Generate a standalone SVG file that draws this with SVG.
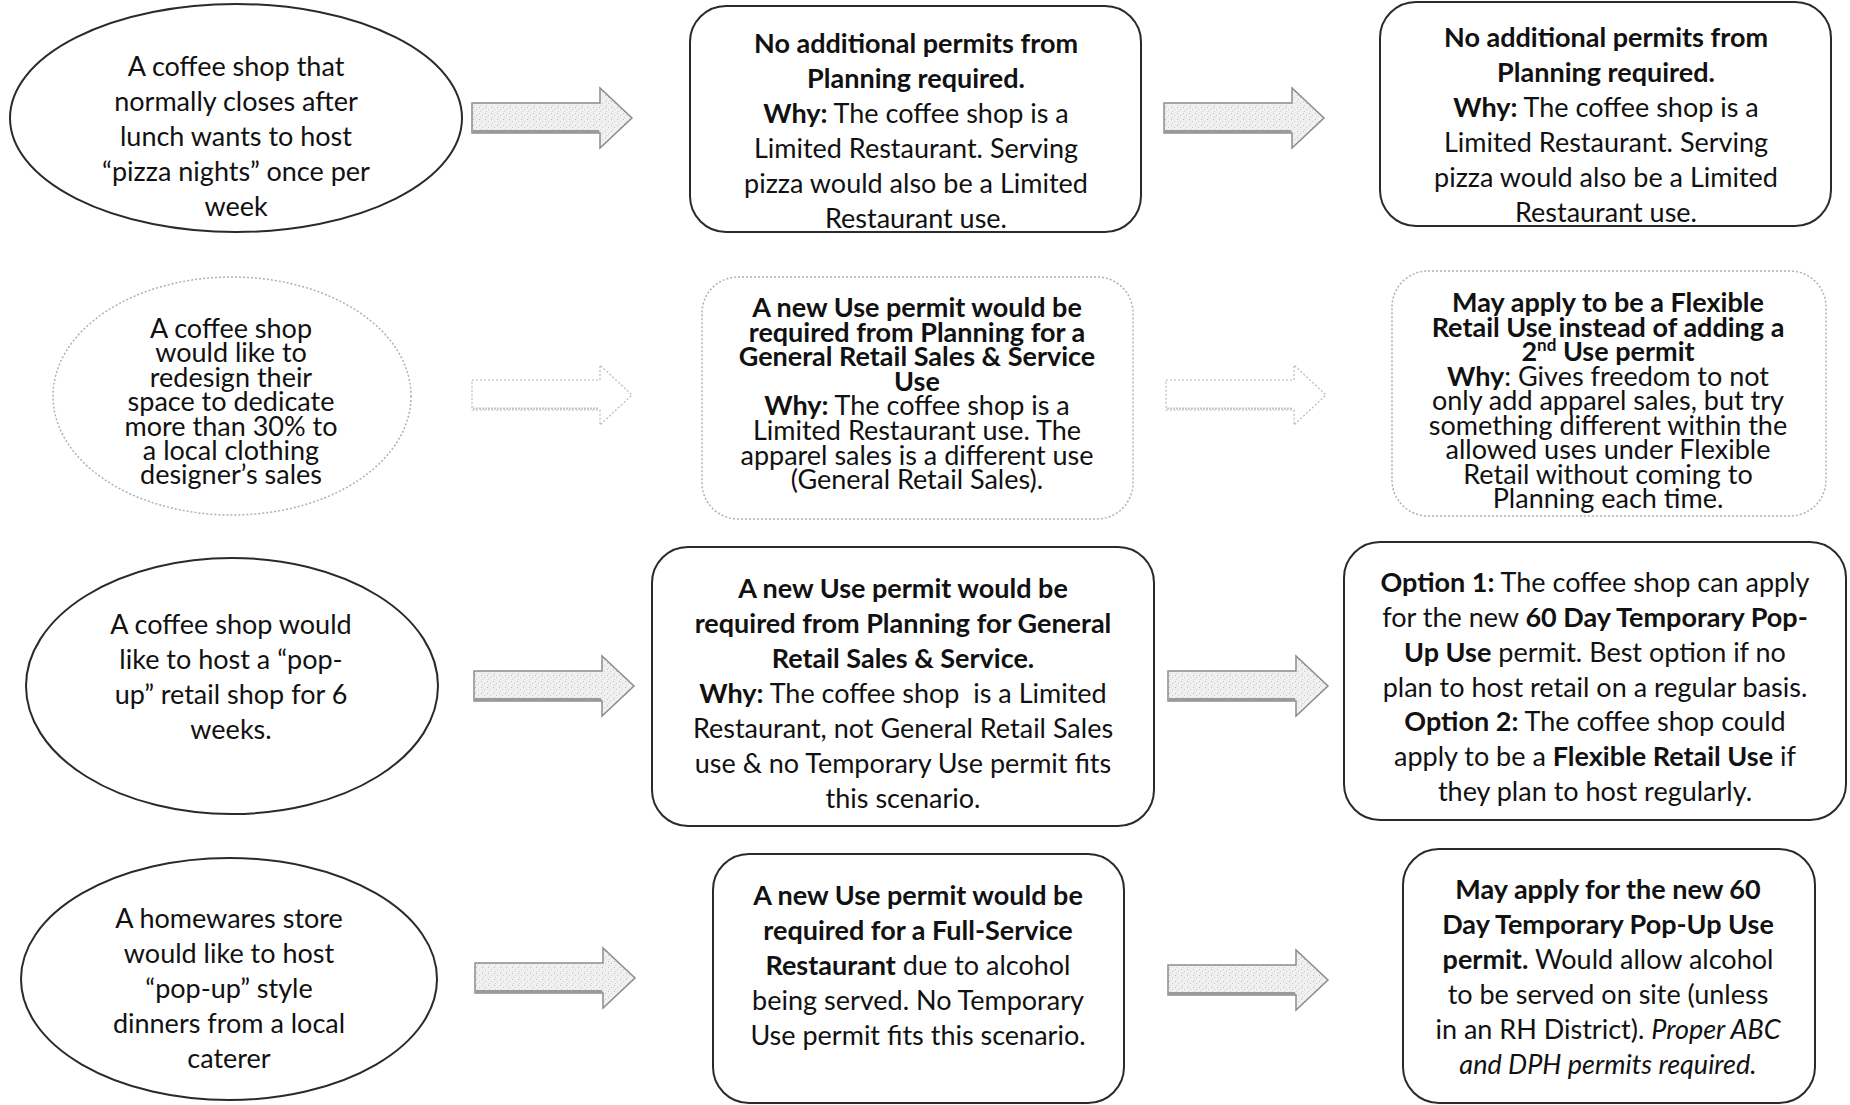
<svg xmlns="http://www.w3.org/2000/svg" width="1850" height="1105" viewBox="0 0 1850 1105">
<style>
.t{font-family:Lato,"Liberation Sans",sans-serif;font-size:27px;fill:#111;text-anchor:middle}
.b{font-weight:bold}
.i{font-style:italic}
.shape{fill:#fff;stroke:#2a2a2a;stroke-width:2}
.faint{fill:#fff;stroke:#b0b0b0;stroke-width:1.5;stroke-dasharray:2 2}
.arr{fill:url(#stip);stroke:#8c8c8c;stroke-width:1.5}
.arrf{fill:#fff;stroke:#b8b8b8;stroke-width:1.2;stroke-dasharray:2 2}
.edge{fill:none;stroke:#9a9a9a;stroke-width:3}
.edgef{fill:none;stroke:#c4c4c4;stroke-width:2;stroke-dasharray:2 1}
</style>
<defs>
<pattern id="stip" width="6" height="6" patternUnits="userSpaceOnUse">
<rect width="6" height="6" fill="#f0f0f0"/>
<rect x="1" y="1" width="1" height="1" fill="#bdbdbd"/>
<rect x="4" y="3" width="1" height="1" fill="#c8c8c8"/>
<rect x="2" y="5" width="1" height="1" fill="#d0d0d0"/>
</pattern>
<path id="arrow" d="M0,-15 H128 V-30 L160,0 L128,30 V15 H0 Z"/>
<path id="arrowEdge" d="M1,13.5 H127"/>
</defs>
<rect width="1850" height="1105" fill="#fff"/>

<g id="connectors">
<g transform="translate(472,118)"><use href="#arrow" class="arr"/><use href="#arrowEdge" class="edge"/></g>
<g transform="translate(1164,118)"><use href="#arrow" class="arr"/><use href="#arrowEdge" class="edge"/></g>
<g transform="translate(472,395)"><use href="#arrow" class="arrf"/><use href="#arrowEdge" class="edgef"/></g>
<g transform="translate(1166,395)"><use href="#arrow" class="arrf"/><use href="#arrowEdge" class="edgef"/></g>
<g transform="translate(474,686)"><use href="#arrow" class="arr"/><use href="#arrowEdge" class="edge"/></g>
<g transform="translate(1168,686)"><use href="#arrow" class="arr"/><use href="#arrowEdge" class="edge"/></g>
<g transform="translate(475,978)"><use href="#arrow" class="arr"/><use href="#arrowEdge" class="edge"/></g>
<g transform="translate(1168,980)"><use href="#arrow" class="arr"/><use href="#arrowEdge" class="edge"/></g>
</g>

<g id="scenario1">
<ellipse class="shape" cx="236" cy="118" rx="226" ry="114"/>
<text class="t"><tspan x="236" y="76">A coffee shop that</tspan><tspan x="236" y="111">normally closes after</tspan><tspan x="236" y="146">lunch wants to host</tspan><tspan x="236" y="181">“pizza nights” once per</tspan><tspan x="236" y="216">week</tspan></text>
</g>
<g id="result1">
<rect class="shape" x="690" y="6" width="451" height="226" rx="36"/>
<text class="t"><tspan x="916" y="53" class="b">No additional permits from</tspan><tspan x="916" y="88" class="b">Planning required.</tspan><tspan x="916" y="123"><tspan class="b">Why:</tspan> The coffee shop is a</tspan><tspan x="916" y="158">Limited Restaurant. Serving</tspan><tspan x="916" y="193">pizza would also be a Limited</tspan><tspan x="916" y="228">Restaurant use.</tspan></text>
</g>
<g id="option1">
<rect class="shape" x="1380" y="2" width="451" height="224" rx="36"/>
<text class="t"><tspan x="1606" y="47" class="b">No additional permits from</tspan><tspan x="1606" y="82" class="b">Planning required.</tspan><tspan x="1606" y="117"><tspan class="b">Why:</tspan> The coffee shop is a</tspan><tspan x="1606" y="152">Limited Restaurant. Serving</tspan><tspan x="1606" y="187">pizza would also be a Limited</tspan><tspan x="1606" y="222">Restaurant use.</tspan></text>
</g>

<g id="scenario2">
<ellipse class="faint" cx="232" cy="396" rx="179" ry="119"/>
<text class="t"><tspan x="231" y="338">A coffee shop</tspan><tspan x="231" y="362.4">would like to</tspan><tspan x="231" y="386.8">redesign their</tspan><tspan x="231" y="411.2">space to dedicate</tspan><tspan x="231" y="435.6">more than 30% to</tspan><tspan x="231" y="460">a local clothing</tspan><tspan x="231" y="484.4">designer’s sales</tspan></text>
</g>
<g id="result2">
<rect class="faint" x="702" y="277" width="431" height="242" rx="36"/>
<text class="t"><tspan x="917" y="317" class="b">A new Use permit would be</tspan><tspan x="917" y="341.6" class="b">required from Planning for a</tspan><tspan x="917" y="366.2" class="b">General Retail Sales &amp; Service</tspan><tspan x="917" y="390.8" class="b">Use</tspan><tspan x="917" y="415.4"><tspan class="b">Why:</tspan> The coffee shop is a</tspan><tspan x="917" y="440">Limited Restaurant use. The</tspan><tspan x="917" y="464.6">apparel sales is a different use</tspan><tspan x="917" y="489.2">(General Retail Sales).</tspan></text>
</g>
<g id="option2">
<rect class="faint" x="1392" y="271" width="434" height="245" rx="36"/>
<text class="t"><tspan x="1608" y="312" class="b">May apply to be a Flexible</tspan><tspan x="1608" y="336.5" class="b">Retail Use instead of adding a</tspan><tspan x="1608" y="361" class="b">2<tspan font-size="17" dy="-10">nd</tspan><tspan dy="10"> Use permit</tspan></tspan><tspan x="1608" y="385.5"><tspan class="b">Why</tspan>: Gives freedom to not</tspan><tspan x="1608" y="410">only add apparel sales, but try</tspan><tspan x="1608" y="434.5">something different within the</tspan><tspan x="1608" y="459">allowed uses under Flexible</tspan><tspan x="1608" y="483.5">Retail without coming to</tspan><tspan x="1608" y="508">Planning each time.</tspan></text>
</g>

<g id="scenario3">
<ellipse class="shape" cx="232" cy="686" rx="206" ry="128"/>
<text class="t"><tspan x="231" y="634">A coffee shop would</tspan><tspan x="231" y="669">like to host a “pop-</tspan><tspan x="231" y="704">up” retail shop for 6</tspan><tspan x="231" y="739">weeks.</tspan></text>
</g>
<g id="result3">
<rect class="shape" x="652" y="547" width="502" height="279" rx="36"/>
<text class="t"><tspan x="903" y="598" class="b">A new Use permit would be</tspan><tspan x="903" y="633" class="b">required from Planning for General</tspan><tspan x="903" y="668" class="b">Retail Sales &amp; Service.</tspan><tspan x="903" y="703"><tspan class="b">Why:</tspan> The coffee shop&#160; is a Limited</tspan><tspan x="903" y="738">Restaurant, not General Retail Sales</tspan><tspan x="903" y="773">use &amp; no Temporary Use permit fits</tspan><tspan x="903" y="808">this scenario.</tspan></text>
</g>
<g id="option3">
<rect class="shape" x="1344" y="542" width="502" height="278" rx="36"/>
<text class="t"><tspan x="1595" y="592"><tspan class="b">Option 1:</tspan> The coffee shop can apply</tspan><tspan x="1595" y="627">for the new <tspan class="b">60 Day Temporary Pop-</tspan></tspan><tspan x="1595" y="662"><tspan class="b">Up Use</tspan> permit. Best option if no</tspan><tspan x="1595" y="697">plan to host retail on a regular basis.</tspan><tspan x="1595" y="731"><tspan class="b">Option 2:</tspan> The coffee shop could</tspan><tspan x="1595" y="766">apply to be a <tspan class="b">Flexible Retail Use</tspan> if</tspan><tspan x="1595" y="801">they plan to host regularly.</tspan></text>
</g>

<g id="scenario4">
<ellipse class="shape" cx="229" cy="979" rx="208" ry="121"/>
<text class="t"><tspan x="229" y="928">A homewares store</tspan><tspan x="229" y="963">would like to host</tspan><tspan x="229" y="998">“pop-up” style</tspan><tspan x="229" y="1033">dinners from a local</tspan><tspan x="229" y="1068">caterer</tspan></text>
</g>
<g id="result4">
<rect class="shape" x="713" y="854" width="411" height="249" rx="36"/>
<text class="t"><tspan x="918" y="905" class="b">A new Use permit would be</tspan><tspan x="918" y="940" class="b">required for a Full-Service</tspan><tspan x="918" y="975"><tspan class="b">Restaurant</tspan> due to alcohol</tspan><tspan x="918" y="1010">being served. No Temporary</tspan><tspan x="918" y="1045">Use permit fits this scenario.</tspan></text>
</g>
<g id="option4">
<rect class="shape" x="1403" y="849" width="412" height="254" rx="36"/>
<text class="t"><tspan x="1608" y="899" class="b">May apply for the new 60</tspan><tspan x="1608" y="934" class="b">Day Temporary Pop-Up Use</tspan><tspan x="1608" y="969"><tspan class="b">permit.</tspan> Would allow alcohol</tspan><tspan x="1608" y="1004">to be served on site (unless</tspan><tspan x="1608" y="1039">in an RH District). <tspan class="i">Proper ABC</tspan></tspan><tspan x="1608" y="1074" class="i">and DPH permits required.</tspan></text>
</g>
</svg>
